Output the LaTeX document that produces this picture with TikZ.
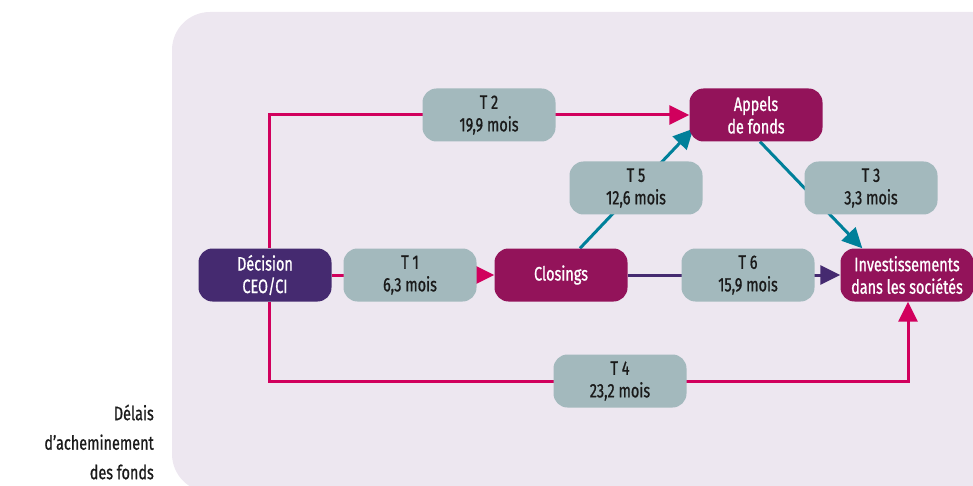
\documentclass[tikz,border=0pt]{standalone}
\usepackage{fontspec}
\setmainfont[FakeStretch=0.74,FakeBold=0.9]{Fira Sans}
\usetikzlibrary{arrows.meta,calc}
\definecolor{panel}{HTML}{EDE7F0}
\definecolor{greybox}{HTML}{A3B9BD}
\definecolor{deep}{HTML}{452A70}
\definecolor{wine}{HTML}{93135A}
\definecolor{pinkl}{HTML}{D1005D}
\definecolor{teall}{HTML}{00809A}
\definecolor{ink}{HTML}{1A1A1A}
\pgfdeclarelayer{bg}
\pgfdeclarelayer{lines}
\pgfsetlayers{bg,lines,main}
\tikzset{
  box/.style={rectangle, draw=none, rounded corners=14pt, minimum width=133pt, minimum height=53pt, inner sep=0pt, align=center, font=\fontsize{19.5}{22.5}\selectfont},
  tbox/.style={box, fill=greybox, text=ink},
  dbox/.style={box, fill=deep, text=white},
  wbox/.style={box, fill=wine, text=white},
  conn/.style={line width=3pt},
  pk/.style={conn, draw=pinkl},
  tl/.style={conn, draw=teall},
  pu/.style={conn, draw=deep},
  tip/.style={-{Triangle[length=20pt,width=19pt]}}
}
\begin{document}
\begin{tikzpicture}[x=1pt,y=-1pt]
\useasboundingbox (0,0) rectangle (973,486);
\begin{pgfonlayer}{bg}
\begin{scope}
\clip (0,0) rectangle (973,486);
\fill[panel, rounded corners=38pt] (172,12) rectangle (1020,492);
\end{scope}
\end{pgfonlayer}
\node[dbox] (dec) at (265,275) {Décision\\CEO/CI};
\node[tbox] (t1) at (410,275) {T 1\\6,3 mois};
\node[wbox] (clo) at (561,275) {Closings};
\node[tbox] (t6) at (748,275) {T 6\\15,9 mois};
\node[wbox] (inv) at (907,275) {Investissements\\dans les sociétés};
\node[wbox] (app) at (756,115) {Appels\\de fonds};
\node[tbox] (t2) at (489,115) {T 2\\19,9 mois};
\node[tbox] (t5) at (636,188) {T 5\\12,6 mois};
\node[tbox] (t3) at (871,188) {T 3\\3,3 mois};
\node[tbox] (t4) at (620,381) {T 4\\23,2 mois};
\node[anchor=east, align=right, text=ink, inner sep=0pt, font=\fontsize{19.5}{29.5}\selectfont] (lab) at (154,442) {Délais\\d’acheminement\\des fonds};
\begin{pgfonlayer}{lines}
\draw[pk,tip] ($(dec.north)+(4,0)$) |- (app.west);
\draw[pk,tip] ($(dec.south)+(4,0)$) |- (t4.center) -| ($(inv.south)+(1,0)$);
\draw[pk,tip] (dec.east) -- (clo.west);
\draw[pu,tip] (clo.east) -- (inv.west);
\draw[tl,tip] ($(clo.north)+(19,0)$) -- ($(app.south west)+(4,-13)$);
\draw[tl,tip] ($(app.south)+(4,0)$) -- ($(inv.north west)+(22,0)$);
\end{pgfonlayer}
\end{tikzpicture}
\end{document}
